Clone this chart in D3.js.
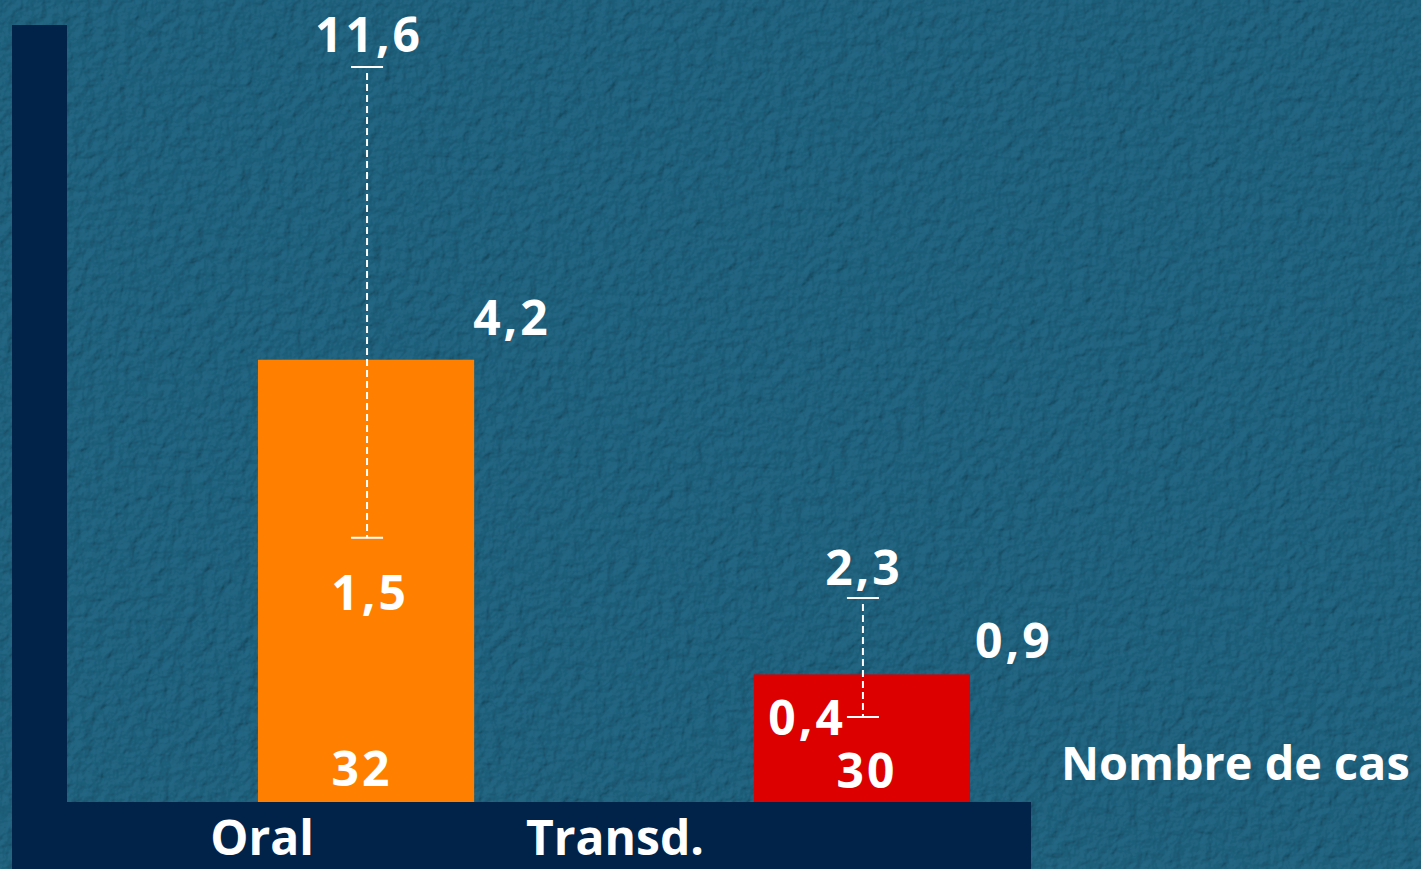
<!DOCTYPE html>
<html>
<head>
<meta charset="utf-8">
<script src="https://cdn.jsdelivr.net/npm/d3@7"></script>
<style>
    html, body { margin: 0; padding: 0; background: #1e5a73; overflow: hidden; }
    svg { display: block; }
    text { font-family: "Comic Sans MS", "Open Sans", sans-serif; font-weight: bold; fill: #fff; }
</style>
</head>
<body>
<svg id="chart" width="1421" height="869"></svg>
<script>
const categories = ['Oral', 'Transd.'];
const meanValues = [4.2, 0.9];
const lowValues = [1.5, 0.4];
const highValues = [11.6, 2.3];
const caseCounts = [32, 30];
const barColors = ['#ff8000', '#dc0000'];
const valueLabels = ['4,2', '0,9'];
const lowLabels = ['1,5', '0,4'];
const highLabels = ['11,6', '2,3'];

const W = 1421, H = 869;
const baseY = 802;

const svg = d3.select('#chart');

// Textured background
const defs = svg.append('defs');
const filter = defs.append('filter')
    .attr('id', 'paper')
    .attr('x', 0).attr('y', 0).attr('width', '100%').attr('height', '100%');
filter.append('feTurbulence')
    .attr('type', 'fractalNoise')
    .attr('baseFrequency', 0.09)
    .attr('numOctaves', 3)
    .attr('seed', 4)
    .attr('result', 'noise');
filter.append('feDiffuseLighting')
    .attr('in', 'noise')
    .attr('surfaceScale', 2.2)
    .attr('lighting-color', '#236885')
    .append('feDistantLight')
    .attr('azimuth', 225)
    .attr('elevation', 60);

svg.append('rect')
    .attr('width', W).attr('height', H)
    .attr('filter', 'url(#paper)');

// x scale shared, y scales per group (the slide is not drawn to a common scale)
const x = d3.scaleBand()
    .domain(categories)
    .range([67, 1031])
    .paddingInner(0.564)
    .paddingOuter(0.254)
    .align(0.758);

const yScales = {
    'Oral': d3.scaleSqrt().domain([0, 11.6]).range([baseY, 67]),
    'Transd.': d3.scaleSqrt().domain([0, 2.3]).range([baseY, 598])
};

const data = categories.map((c, i) => ({
    cat: c,
    mean: meanValues[i],
    low: lowValues[i],
    high: highValues[i],
    n: caseCounts[i],
    color: barColors[i],
    vLabel: valueLabels[i],
    loLabel: lowLabels[i],
    hiLabel: highLabels[i]
}));

// Bars
svg.selectAll('rect.bar')
    .data(data)
    .join('rect')
    .attr('class', 'bar')
    .attr('x', d => x(d.cat))
    .attr('width', x.bandwidth())
    .attr('y', d => yScales[d.cat](d.mean))
    .attr('height', d => baseY - yScales[d.cat](d.mean))
    .attr('fill', d => d.color);

// Error bars (dashed)
const err = svg.selectAll('g.err')
    .data(data)
    .join('g')
    .attr('class', 'err')
    .attr('transform', d => `translate(${x(d.cat) + x.bandwidth() / 2 + 1},0)`);

err.append('line')
    .attr('y1', d => yScales[d.cat](d.high) + 6)
    .attr('y2', d => yScales[d.cat](d.low))
    .attr('stroke', '#fff')
    .attr('stroke-width', 2)
    .attr('stroke-dasharray', '7,4');

err.selectAll('line.cap')
    .data(d => [d.high, d.low].map(v => yScales[d.cat](v)))
    .join('line')
    .attr('class', 'cap')
    .attr('x1', -16).attr('x2', 16)
    .attr('y1', d => d).attr('y2', d => d)
    .attr('stroke', '#fff')
    .attr('stroke-width', 2);

// Axis (L-shaped dark band)
svg.append('rect')
    .attr('x', 12).attr('y', 25)
    .attr('width', 55).attr('height', H - 25)
    .attr('fill', '#01234a');
svg.append('rect')
    .attr('x', 12).attr('y', baseY)
    .attr('width', 1031 - 12).attr('height', H - baseY)
    .attr('fill', '#01234a');

const fs = 48;

// Category labels
const catLabelX = { 'Oral': 262, 'Transd.': 615 };
svg.selectAll('text.cat')
    .data(categories)
    .join('text')
    .attr('class', 'cat')
    .attr('x', d => catLabelX[d])
    .attr('y', 855)
    .attr('text-anchor', 'middle')
    .attr('font-size', fs)
    .text(d => d);

// Value labels
const oral = data[0], trans = data[1];
const cx = d => x(d.cat) + x.bandwidth() / 2;

function label(txt, px, py, anchor) {
    svg.append('text')
        .attr('x', px).attr('y', py)
        .attr('text-anchor', anchor || 'middle')
        .attr('font-size', fs)
        .attr('letter-spacing', 3)
        .text(txt);
}

label(oral.hiLabel, cx(oral) + 3, 52);
label(oral.vLabel, x(oral.cat) + x.bandwidth() - 1, 335, 'start');
label(oral.loLabel, cx(oral) + 4, 610);
label(oral.n, cx(oral) - 4, 786);

label(trans.hiLabel, cx(trans) + 2, 585);
label(trans.vLabel, x(trans.cat) + x.bandwidth() + 5, 658, 'start');
label(trans.loLabel, cx(trans) - 16, 735, 'end');
label(trans.n, cx(trans) + 5, 788);

svg.append('text')
    .attr('x', 1061).attr('y', 780)
    .attr('font-size', 46.8)
    .text('Nombre de cas');
</script>
</body>
</html>
